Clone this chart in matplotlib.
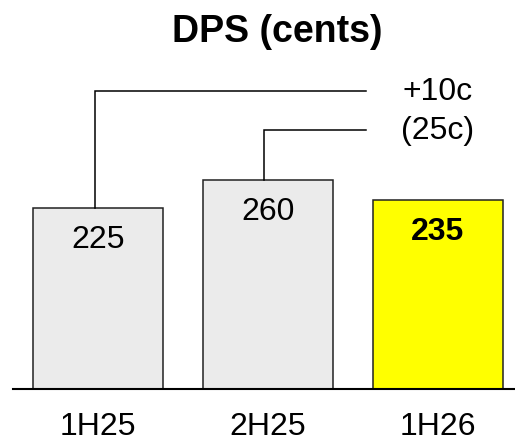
import matplotlib
matplotlib.use("Agg")
import matplotlib.pyplot as plt

plt.rcParams['font.family'] = ['Liberation Sans', 'DejaVu Sans']

# Data
categories = ["1H25", "2H25", "1H26"]
values = [225, 260, 235]
bar_colors = ["#EBEBEB", "#EBEBEB", "#FFFF00"]
label_bold = [False, False, True]
title = "DPS (cents)"

# Bracket annotations: (from bar index, level, label)
bracket_from = [0, 1]
bracket_levels = [370, 322]
bracket_labels = ["+10c", "(25c)"]

W, H = 515, 439
fig = plt.figure(figsize=(W / 100, H / 100), dpi=100)
ax = fig.add_axes([13 / W, (H - 390) / H, (W - 13) / W, 330 / H])

x = list(range(len(categories)))
ax.bar(x, values, width=0.765, color=bar_colors, edgecolor="#222222",
       linewidth=1.1, zorder=2)

for xi, v, b in zip(x, values, label_bold):
    ax.annotate(str(v), (xi, v), xytext=(0, -22.5), textcoords="offset points",
                ha="center", va="center", fontsize=23,
                fontweight="bold" if b else "normal", color="black")

for bi, lvl, lab in zip(bracket_from, bracket_levels, bracket_labels):
    bx = bi - 0.02
    ax.plot([bx, bx, 1.58], [values[bi], lvl, lvl], color="black",
            linewidth=1.1, solid_joinstyle="miter", zorder=3)
    ax.text(2.0, lvl, lab, ha="center", va="center", fontsize=23)

ax.set_xlim(-0.5, 2.455)
ax.set_ylim(0, 410.4)
ax.set_xticks(x)
ax.set_xticklabels(categories, fontsize=23)
ax.tick_params(axis="x", length=0, pad=16)
ax.set_yticks([])
for s in ["top", "right", "left"]:
    ax.spines[s].set_visible(False)
ax.spines["bottom"].set_linewidth(1.5)
ax.spines["bottom"].set_zorder(4)
ax.set_facecolor("none")

fig.text(277 / W, (H - 42) / H, title, ha="center", va="baseline",
         fontsize=27, fontweight="bold")

fig.savefig("out.png", dpi=100)
